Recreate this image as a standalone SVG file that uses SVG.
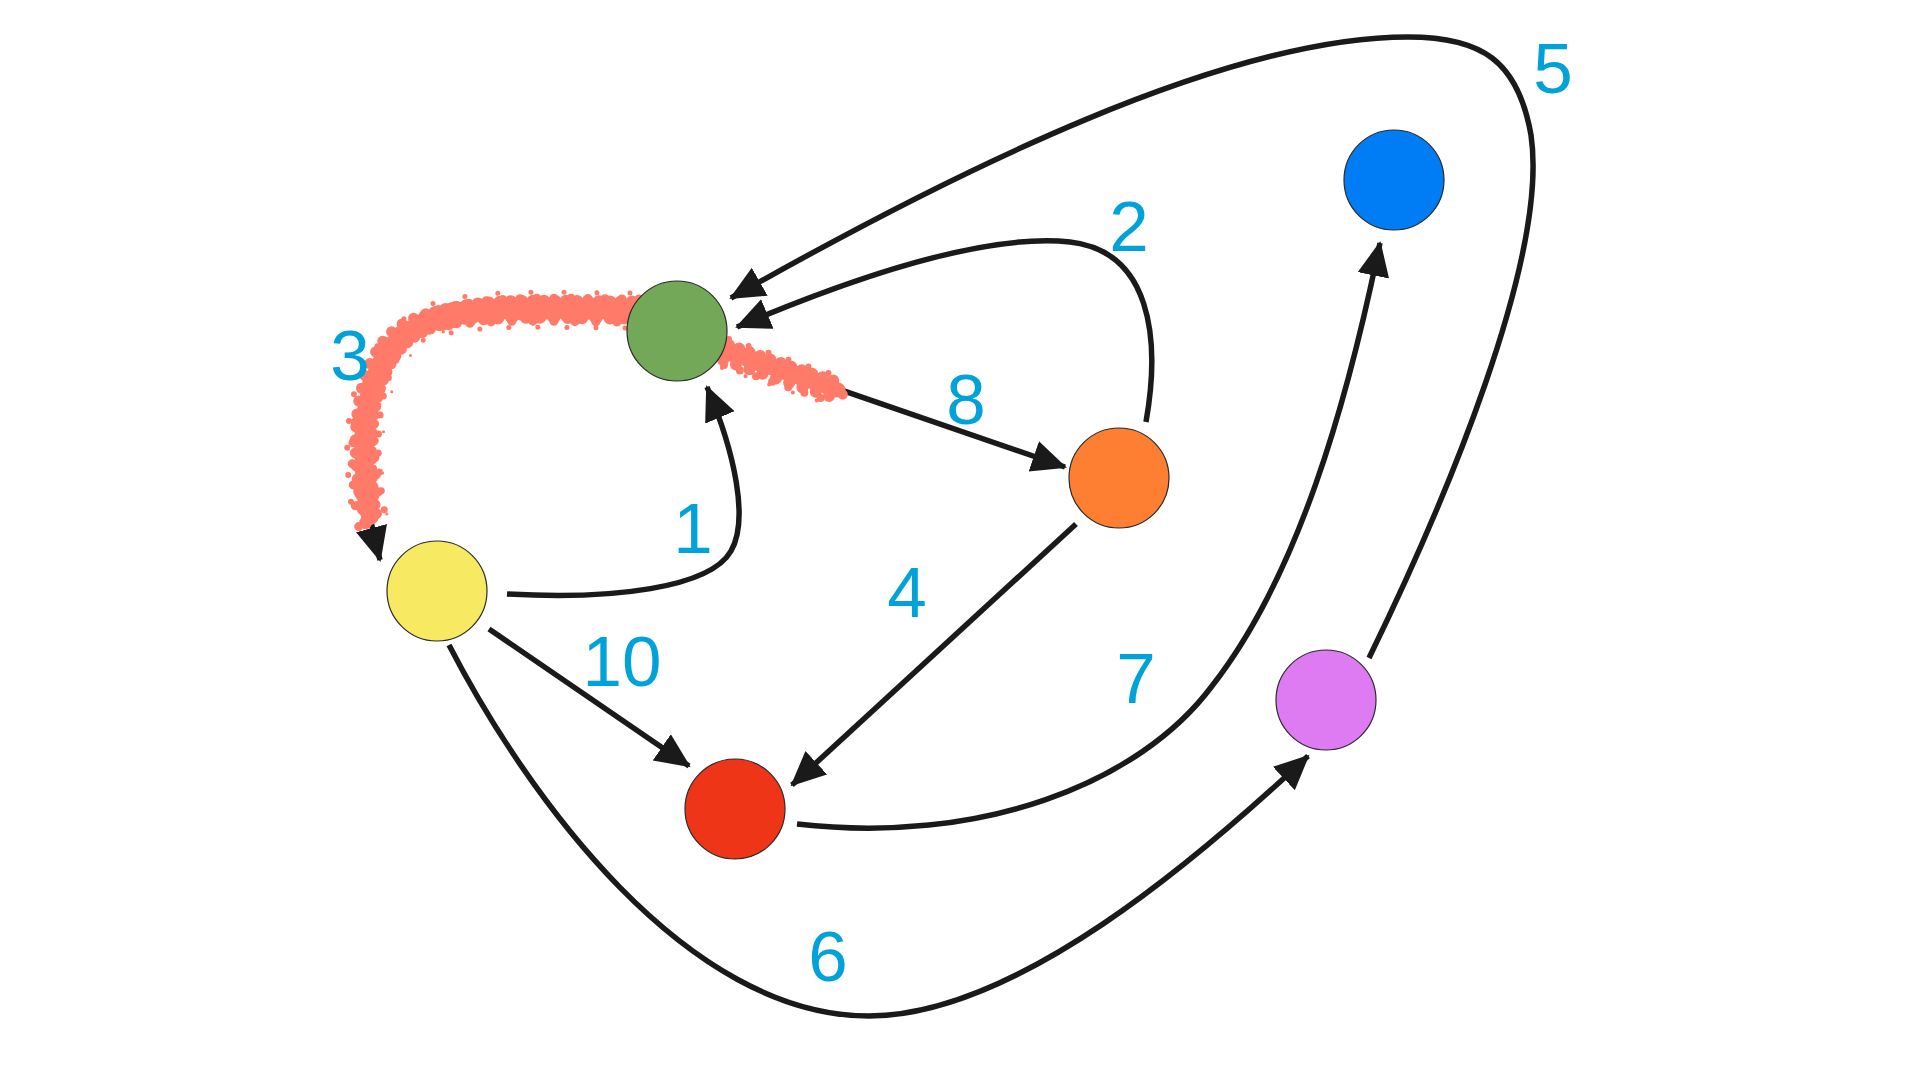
<svg xmlns="http://www.w3.org/2000/svg" width="1920" height="1080" viewBox="0 0 1920 1080">
<style>
.edge{fill:none;stroke:#1a1a1a;stroke-width:5.5;marker-end:url(#ah)}
.node{stroke:#2a2a2a;stroke-width:1.2}
.lbl{font-family:"Liberation Sans",Arial,sans-serif;font-size:71px;fill:#00A2D9;text-anchor:middle}
.spray{fill:none;stroke:#FF7A68;stroke-linecap:round}
</style>
<defs>
<marker id="ah" markerUnits="userSpaceOnUse" markerWidth="40" markerHeight="36" refX="33" refY="16" orient="auto">
<path d="M0,0 L35,16 L0,32 Z" fill="#1a1a1a"/>
</marker>
<path id="sp3" d="M628,310 C540,310 455,303 410,330 C370,354 360,420 364,470 C366,495 368,508 370,516"/>
<path id="sp8" d="M726,352 C760,364 800,378 838,390"/>
</defs>
<rect width="1920" height="1080" fill="#ffffff"/>
<g id="connectors">
<path id="e1" class="edge" d="M507,594 C612,600 710,588 731,551 C749,520 735,453 707,387"/>
<path id="e2" class="edge" d="M1146,422 C1161,337 1150,251 1070,242 C985,233 857,276 737,327"/>
<path id="e3" class="edge" d="M630,312 C540,312 455,305 410,332 C370,356 360,420 364,470 C366,500 372,530 380,560"/>
<path id="e4" class="edge" d="M1076,524 L792,785"/>
<path id="e5" class="edge" d="M1369,658 C1445,502 1549,257 1531,135 C1518,61 1482,37 1408,37 C1225,37 955,171 731,298"/>
<path id="e6" class="edge" d="M449,645 C527,796 686,1016 869,1016 C1016,1016 1200,857 1308,756"/>
<path id="e7" class="edge" d="M797,824 C980,845 1139,784 1212,686 C1298,576 1347,404 1380,243"/>
<path id="e8" class="edge" d="M722,349 L1065,467"/>
<path id="e10" class="edge" d="M489,629 L689,766"/>
</g>
<g id="spray">
<use href="#sp3" class="spray" stroke-width="18" stroke-dasharray="10 4 3 5"/>
<use href="#sp3" class="spray" stroke-width="13" stroke-dasharray="0 11" transform="translate(4,-8)"/>
<use href="#sp3" class="spray" stroke-width="13" stroke-dasharray="0 14" transform="translate(-4,8)"/>
<use href="#sp3" class="spray" stroke-width="11" stroke-dasharray="0 9" transform="translate(8,5)"/>
<use href="#sp3" class="spray" stroke-width="11" stroke-dasharray="0 13" transform="translate(-8,-6)"/>
<use href="#sp3" class="spray" stroke-width="9" stroke-dasharray="0 17" transform="translate(11,-11)"/>
<use href="#sp3" class="spray" stroke-width="9" stroke-dasharray="0 21" transform="translate(-11,12)"/>
<use href="#sp3" class="spray" stroke-width="7" stroke-dasharray="0 19" transform="translate(15,-3)"/>
<use href="#sp3" class="spray" stroke-width="6" stroke-dasharray="0 27" transform="translate(-16,2)"/>
<use href="#sp3" class="spray" stroke-width="5" stroke-dasharray="0 33" transform="translate(2,-17)"/>
<use href="#sp3" class="spray" stroke-width="5" stroke-dasharray="0 29" transform="translate(-3,18)"/>
<use href="#sp3" class="spray" stroke-width="3" stroke-dasharray="0 41" transform="translate(19,9)"/>
<use href="#sp8" class="spray" stroke-width="15" stroke-dasharray="10 4 3 5"/>
<use href="#sp8" class="spray" stroke-width="12" stroke-dasharray="0 11" transform="translate(3,-7)"/>
<use href="#sp8" class="spray" stroke-width="12" stroke-dasharray="0 14" transform="translate(-3,8)"/>
<use href="#sp8" class="spray" stroke-width="10" stroke-dasharray="0 9" transform="translate(6,5)"/>
<use href="#sp8" class="spray" stroke-width="9" stroke-dasharray="0 13" transform="translate(-5,-8)"/>
<use href="#sp8" class="spray" stroke-width="8" stroke-dasharray="0 17" transform="translate(-2,13)"/>
<use href="#sp8" class="spray" stroke-width="6" stroke-dasharray="0 21" transform="translate(3,-13)"/>
<use href="#sp8" class="spray" stroke-width="4" stroke-dasharray="0 25" transform="translate(-4,16)"/>
</g>
<g id="n-green"><circle class="node" cx="677" cy="331" r="50" fill="#72A857"/></g>
<g id="n-orange"><circle class="node" cx="1119" cy="478" r="50" fill="#FE7F32"/></g>
<g id="n-blue"><circle class="node" cx="1394" cy="180" r="50" fill="#007DF5"/></g>
<g id="n-yellow"><circle class="node" cx="437" cy="591" r="50" fill="#F7E961"/></g>
<g id="n-red"><circle class="node" cx="735" cy="809" r="50" fill="#EE3517"/></g>
<g id="n-purple"><circle class="node" cx="1326" cy="700" r="50" fill="#DE7BF2"/></g>
<g id="labels">
<text class="lbl" x="1553" y="93">5</text>
<text class="lbl" x="1129" y="251">2</text>
<text class="lbl" x="350" y="380">3</text>
<text class="lbl" x="966" y="424">8</text>
<text class="lbl" x="693" y="553">1</text>
<text class="lbl" x="907" y="617">4</text>
<text class="lbl" x="622" y="686">10</text>
<text class="lbl" x="1136" y="703">7</text>
<text class="lbl" x="828" y="981">6</text>
</g>
</svg>
